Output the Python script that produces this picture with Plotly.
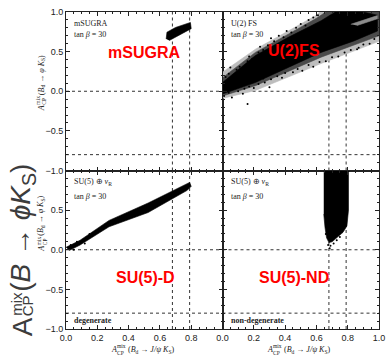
import plotly.graph_objects as go
from plotly.subplots import make_subplots

# ---- reference lines (sin 2beta window and phi K_S bounds) ----
vlines = [0.68, 0.79]
hlines = [0.0, -0.8]

# ---- mSUGRA band outline ----
msugra_x = [0.640, 0.645, 0.700, 0.795, 0.800, 0.700, 0.660]
msugra_y = [0.660, 0.745, 0.805, 0.868, 0.790, 0.690, 0.640]

# ---- U(2) FS cloud: outer halo, inner halo and dense core outlines ----
u2_outer_x = [0.00, 0.21, 0.42, 0.60, 0.62, 1.00, 1.00, 0.84, 0.63, 0.42, 0.21, 0.00]
u2_outer_y = [0.24, 0.53, 0.76, 0.96, 1.00, 1.00, 0.63, 0.51, 0.35, 0.18, 0.01, -0.09]
u2_inner_x = [0.00, 0.21, 0.42, 0.60, 0.66, 1.00, 1.00, 0.84, 0.63, 0.42, 0.21, 0.00]
u2_inner_y = [0.17, 0.49, 0.72, 0.92, 1.00, 1.00, 0.70, 0.58, 0.43, 0.25, 0.07, -0.06]
u2_core_x = [0.00, 0.21, 0.42, 0.63, 0.72, 0.90, 0.99, 0.99, 0.84, 0.63, 0.42, 0.21, 0.00]
u2_core_y = [0.11, 0.45, 0.68, 0.89, 1.00, 1.00, 0.96, 0.76, 0.635, 0.49, 0.30, 0.11, -0.035]
u2_gap_x = [0.82, 0.99, 0.99, 0.86]
u2_gap_y = [0.845, 0.955, 0.915, 0.830]
u2_stray_x = [0.02, 0.04, 0.07, 0.09, 0.11, 0.13, 0.16, 0.17, 0.19, 0.23, 0.26, 0.24, 0.29,
              0.33, 0.31, 0.36, 0.39, 0.41, 0.44, 0.47, 0.50, 0.53, 0.55, 0.58, 0.61,
              0.01, 0.04, 0.06, 0.10, 0.14, 0.13, 0.17, 0.20, 0.23, 0.27, 0.26, 0.31, 0.35,
              0.38, 0.40, 0.45, 0.48, 0.51, 0.55, 0.58, 0.62, 0.66, 0.70, 0.74, 0.78, 0.82,
              0.86, 0.90, 0.94, 0.97, 0.16, 0.87, 0.05, 0.30]
u2_stray_y = [0.18, 0.22, 0.20, 0.27, 0.31, 0.28, 0.38, 0.44, 0.41, 0.49, 0.52, 0.56, 0.58,
              0.63, 0.67, 0.70, 0.68, 0.76, 0.74, 0.80, 0.85, 0.83, 0.90, 0.93, 0.96,
              -0.06, -0.02, -0.08, 0.00, 0.03, -0.03, 0.06, 0.04, 0.09, 0.11, 0.16, 0.15, 0.19,
              0.17, 0.23, 0.24, 0.28, 0.26, 0.33, 0.31, 0.37, 0.38, 0.43, 0.44, 0.49, 0.52,
              0.53, 0.59, 0.60, 0.66, -0.16, 0.55, 0.30, 0.05]

# ---- SU(5)+nu_R degenerate band outline ----
sud_x = [0.00, 0.09, 0.275, 0.525, 0.790, 0.800, 0.775, 0.525, 0.275, 0.09, 0.02]
sud_y = [0.03, 0.12, 0.370, 0.590, 0.850, 0.800, 0.750, 0.470, 0.290, 0.06, -0.01]
sud_stray_x = [0.03, 0.05, 0.07, 0.12, 0.15]
sud_stray_y = [0.06, 0.00, 0.10, 0.08, 0.20]

# ---- SU(5)+nu_R non-degenerate block outline ----
sund_x = [0.647, 0.805, 0.805, 0.795, 0.770, 0.740, 0.700, 0.680, 0.665, 0.655, 0.647]
sund_y = [1.000, 1.000, 0.500, 0.300, 0.220, 0.170, 0.100, 0.090, 0.150, 0.280, 0.450]
sund_stray_x = [0.66, 0.675, 0.69, 0.71, 0.73, 0.75, 0.685]
sund_stray_y = [0.20, 0.06, 0.05, 0.08, 0.12, 0.16, 0.02]

# ---- axis ticks ----
x_ticks_left = [0.0, 0.2, 0.4, 0.6, 0.8]
x_ticks_right = [0.0, 0.2, 0.4, 0.6, 0.8, 1.0]
y_ticks_top = [-1.0, -0.5, 0.0, 0.5, 1.0]
y_ticks_bottom = [-1.0, -0.5, 0.0, 0.5]

INK = "#222222"
SANS = "Liberation Sans"
SERIF = "Liberation Serif"

# plot-area geometry in pixels, used to place paper-referenced labels
PX_L, PX_R, PX_T, PX_B = 66, 385, 11, 329


def paper_x(px):
    return (px - PX_L) / (PX_R - PX_L)


def paper_y(py):
    return (PX_B - py) / (PX_B - PX_T)


fig = make_subplots(rows=2, cols=2, horizontal_spacing=0, vertical_spacing=0)


def poly(x, y, row, col, fill="black"):
    fig.add_trace(go.Scatter(x=x, y=y, mode="lines", fill="toself", fillcolor=fill,
                             line=dict(color=fill, width=0.6), hoverinfo="skip",
                             showlegend=False), row=row, col=col)


def dots(x, y, row, col, size=2):
    fig.add_trace(go.Scatter(x=x, y=y, mode="markers",
                             marker=dict(color="black", size=size, line=dict(width=0)),
                             hoverinfo="skip", showlegend=False), row=row, col=col)


# panel (1,1): mSUGRA
poly(msugra_x, msugra_y, 1, 1)
# panel (1,2): U(2) FS
poly(u2_outer_x, u2_outer_y, 1, 2, "#bdbdbd")
poly(u2_inner_x, u2_inner_y, 1, 2, "#4a4a4a")
poly(u2_core_x, u2_core_y, 1, 2, "#000000")
poly(u2_gap_x, u2_gap_y, 1, 2, "#8c8c8c")
dots(u2_stray_x, u2_stray_y, 1, 2)
# panel (2,1): SU(5) degenerate
poly(sud_x, sud_y, 2, 1)
dots(sud_stray_x, sud_stray_y, 2, 1)
# panel (2,2): SU(5) non-degenerate
poly(sund_x, sund_y, 2, 2)
dots(sund_stray_x, sund_stray_y, 2, 2)

axis_common = dict(showline=True, linecolor=INK, linewidth=1, mirror="allticks",
                   ticks="inside", ticklen=4, tickcolor=INK, tickwidth=1,
                   showgrid=False, zeroline=False,
                   tickfont=dict(family=SANS, size=9, color=INK))

for r in (1, 2):
    for c in (1, 2):
        xa = dict(axis_common, range=[0, 1], tickformat=".1f",
                  minor=dict(ticks="inside", ticklen=2, dtick=0.05, tickcolor=INK))
        if r == 2:
            xa["tickvals"] = x_ticks_left if c == 1 else x_ticks_right
        else:
            xa["tickvals"] = x_ticks_right
            xa["showticklabels"] = False
        ya = dict(axis_common, range=[-1, 1], tickformat=".1f",
                  minor=dict(ticks="inside", ticklen=2, dtick=0.1, tickcolor=INK))
        ya["tickvals"] = y_ticks_top if r == 1 else y_ticks_bottom
        if c == 2:
            ya["showticklabels"] = False
        fig.update_xaxes(xa, row=r, col=c)
        fig.update_yaxes(ya, row=r, col=c)

# dotted reference lines in every panel
for r in (1, 2):
    for c in (1, 2):
        for v in vlines:
            fig.add_shape(type="line", x0=v, x1=v, y0=-1, y1=1, layer="below",
                          line=dict(color="#333333", width=1, dash="dot"), row=r, col=c)
        for h in hlines:
            fig.add_shape(type="line", x0=0, x1=1, y0=h, y1=h, layer="below",
                          line=dict(color="#333333", width=1, dash="dot"), row=r, col=c)

# axis references per panel: (row, col) -> (xref, yref)
refs = {(1, 1): ("x", "y"), (1, 2): ("x2", "y2"), (2, 1): ("x3", "y3"), (2, 2): ("x4", "y4")}


def note(rc, x, y, text, size=8, family=SERIF, color=INK, xanchor="left", yanchor="middle"):
    xr, yr = refs[rc]
    fig.add_annotation(x=x, y=y, xref=xr, yref=yr, text=text, showarrow=False,
                       xanchor=xanchor, yanchor=yanchor,
                       font=dict(family=family, size=size, color=color))


# model captions
note((1, 1), 0.04, 0.85, "mSUGRA")
note((1, 1), 0.04, 0.72, "tan <i>β</i> = 30")
note((1, 2), 0.04, 0.85, "U(2) FS")
note((1, 2), 0.04, 0.72, "tan <i>β</i> = 30")
note((2, 1), 0.04, 0.85, "SU(5) ⊕ <i>ν</i><sub>R</sub>")
note((2, 1), 0.04, 0.67, "tan <i>β</i> = 30")
note((2, 2), 0.04, 0.85, "SU(5) ⊕ <i>ν</i><sub>R</sub>")
note((2, 2), 0.04, 0.67, "tan <i>β</i> = 30")
note((2, 1), 0.04, -0.895, "<b>degenerate</b>")
note((2, 2), 0.04, -0.895, "<b>non-degenerate</b>")

# red model tags
RED = "#ff0000"
note((1, 1), 0.50, 0.49, "<b>mSUGRA</b>", 16, SANS, RED, "center")
note((1, 2), 0.46, 0.51, "<b>U(2)FS</b>", 16, SANS, RED, "center")
note((2, 1), 0.51, -0.35, "<b>SU(5)-D</b>", 16, SANS, RED, "center")
note((2, 2), 0.46, -0.35, "<b>SU(5)-ND</b>", 16, SANS, RED, "center")


def piece(px, py, text, size, family, color, angle, xanchor, yanchor, xs=0, ys=0):
    fig.add_annotation(x=paper_x(px), y=paper_y(py), xref="paper", yref="paper",
                       text=text, showarrow=False, textangle=angle,
                       xanchor=xanchor, yanchor=yanchor, xshift=xs, yshift=ys,
                       borderpad=0,
                       font=dict(family=family, size=size, color=color))


# per-panel ordinate titles (rotated, mix/CP stacked after A)
for py in (111, 252):
    piece(41, py, "<i>A</i>", 8, SERIF, INK, -90, "center", "bottom")
    piece(41, py, "mix", 5.5, SERIF, INK, -90, "center", "bottom", -3, 6)
    piece(41, py, "CP", 5.5, SERIF, INK, -90, "center", "bottom", 3, 6)
    piece(41, py, "(<i>B</i><sub>d</sub> → <i>φ K</i><sub>S</sub>)", 8, SERIF, INK, -90,
          "center", "bottom", 0, 16)

# per-panel abscissa titles (mix/CP stacked after A)
for px in (111, 270):
    piece(px, 350, "<i>A</i>", 8, SERIF, INK, 0, "left", "middle")
    piece(px, 350, "mix", 5.5, SERIF, INK, 0, "left", "middle", 6, 3.5)
    piece(px, 350, "CP", 5.5, SERIF, INK, 0, "left", "middle", 6, -3)
    piece(px, 350, "(<i>B</i><sub>d</sub> → <i>J/ψ K</i><sub>S</sub>)", 8, SERIF, INK, 0,
          "left", "middle", 17, 0)

# large shared ordinate title, built from stacked pieces (rotated)
BIG = 28
GRAY = "#3c3c3c"
piece(22, 337, "A", BIG, SANS, GRAY, -90, "center", "bottom")
piece(22, 337, "mix", 15, SANS, GRAY, -90, "center", "bottom", -6, 20)
piece(22, 337, "CP", 15, SANS, GRAY, -90, "center", "bottom", 5, 20)
piece(22, 337, "(<i>B</i> → <i>ϕK</i><sub>S</sub>)", BIG, SANS, GRAY, -90, "center", "bottom", 0, 44)

fig.update_layout(width=392, height=357, margin=dict(l=PX_L, r=392 - PX_R, t=PX_T, b=357 - PX_B),
                  plot_bgcolor="white", paper_bgcolor="white", showlegend=False)

fig.write_html("out.html")
